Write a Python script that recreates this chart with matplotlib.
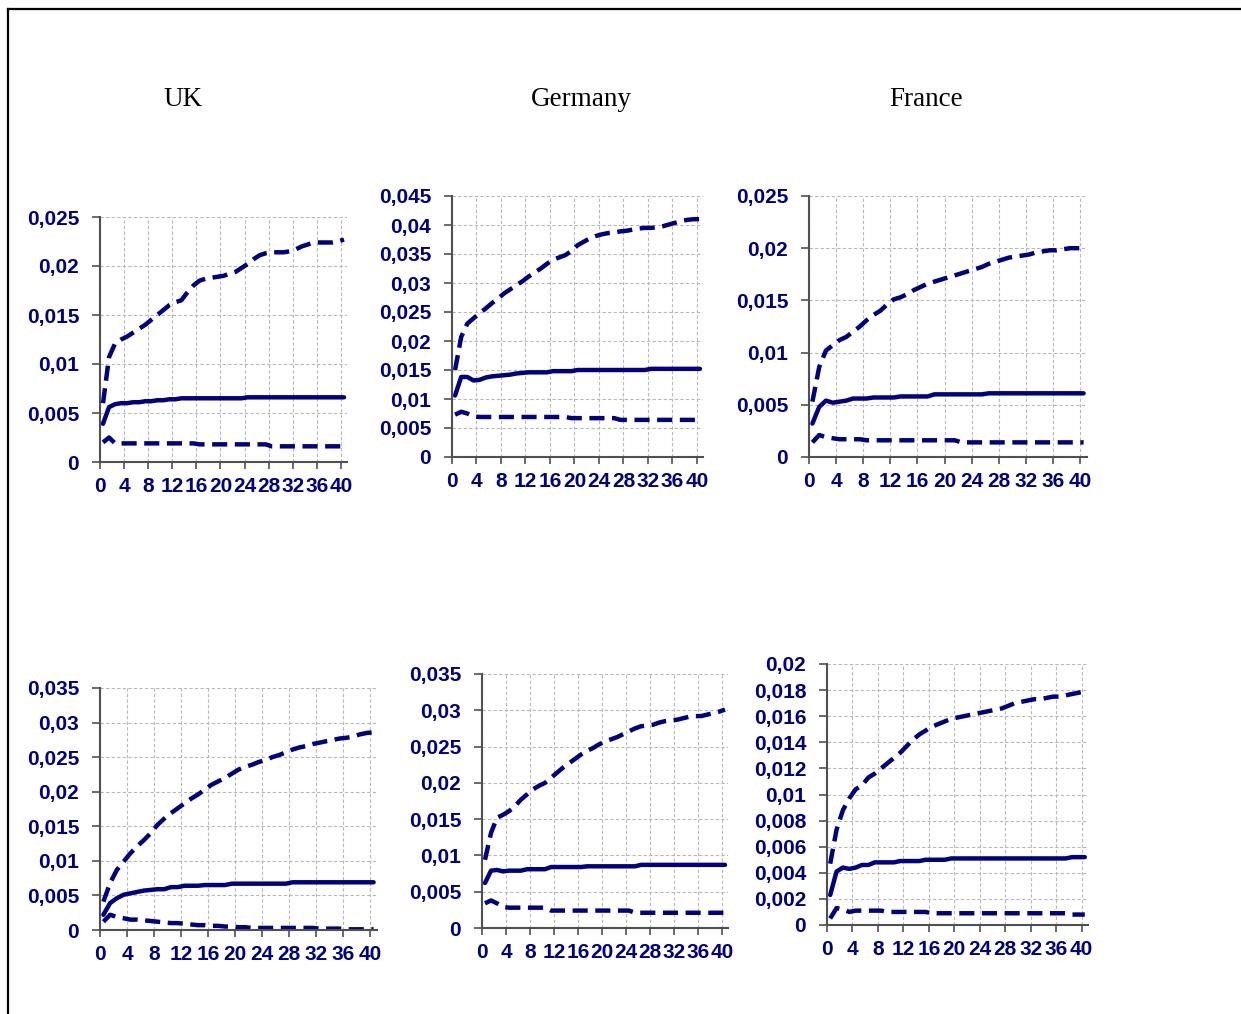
import numpy as np
import matplotlib
matplotlib.use("Agg")
import matplotlib.pyplot as plt
from matplotlib.lines import Line2D
from matplotlib.ticker import FuncFormatter

# horizons 0..40
horizon = np.arange(41)
countries = ["UK", "Germany", "France"]

# top row
uk_top_upper = [0.0060, 0.0107, 0.0121, 0.0125, 0.0128, 0.0132, 0.0136, 0.0140, 0.0145, 0.0150,
                0.0155, 0.0160, 0.0163, 0.0165, 0.0173, 0.0180, 0.0185, 0.0187, 0.0188, 0.0189,
                0.0190, 0.0192, 0.0194, 0.0198, 0.0202, 0.0207, 0.0211, 0.0213, 0.0214, 0.0214,
                0.0214, 0.0215, 0.0217, 0.0220, 0.0222, 0.0224, 0.0224, 0.0224, 0.0224, 0.0225,
                0.0227]
uk_top_mid = [0.0039, 0.0056, 0.0059, 0.0060, 0.0060, 0.0061, 0.0061, 0.0062, 0.0062, 0.0063,
              0.0063, 0.0064, 0.0064, 0.0065, 0.0065, 0.0065, 0.0065, 0.0065, 0.0065, 0.0065,
              0.0065, 0.0065, 0.0065, 0.0065, 0.0066, 0.0066, 0.0066, 0.0066, 0.0066, 0.0066,
              0.0066, 0.0066, 0.0066, 0.0066, 0.0066, 0.0066, 0.0066, 0.0066, 0.0066, 0.0066,
              0.0066]
uk_top_lower = [0.0020, 0.0025, 0.0019, 0.0019, 0.0019, 0.0019, 0.0019, 0.0019, 0.0019, 0.0019,
                0.0019, 0.0019, 0.0019, 0.0019, 0.0019, 0.0019, 0.0018, 0.0018, 0.0018, 0.0018,
                0.0018, 0.0018, 0.0018, 0.0018, 0.0018, 0.0018, 0.0018, 0.0018, 0.0016, 0.0016,
                0.0016, 0.0016, 0.0016, 0.0016, 0.0016, 0.0016, 0.0016, 0.0016, 0.0016, 0.0016,
                0.0016]

de_top_upper = [0.0150, 0.0207, 0.0230, 0.0239, 0.0248, 0.0256, 0.0265, 0.0273, 0.0282, 0.0289,
                0.0296, 0.0303, 0.0311, 0.0318, 0.0325, 0.0333, 0.0340, 0.0344, 0.0348, 0.0355,
                0.0365, 0.0371, 0.0377, 0.0381, 0.0384, 0.0386, 0.0387, 0.0389, 0.0390, 0.0392,
                0.0394, 0.0395, 0.0395, 0.0396, 0.0398, 0.0401, 0.0404, 0.0407, 0.0409, 0.0410,
                0.0410]
de_top_mid = [0.0106, 0.0138, 0.0138, 0.0132, 0.0133, 0.0137, 0.0139, 0.0140, 0.0141, 0.0142,
              0.0144, 0.0145, 0.0146, 0.0146, 0.0146, 0.0146, 0.0148, 0.0148, 0.0148, 0.0148,
              0.0150, 0.0150, 0.0150, 0.0150, 0.0150, 0.0150, 0.0150, 0.0150, 0.0150, 0.0150,
              0.0150, 0.0150, 0.0152, 0.0152, 0.0152, 0.0152, 0.0152, 0.0152, 0.0152, 0.0152,
              0.0152]
de_top_lower = [0.0073, 0.0078, 0.0075, 0.0070, 0.0069, 0.0069, 0.0069, 0.0069, 0.0069, 0.0069,
                0.0069, 0.0069, 0.0069, 0.0069, 0.0069, 0.0069, 0.0069, 0.0069, 0.0069, 0.0067,
                0.0067, 0.0067, 0.0067, 0.0067, 0.0067, 0.0067, 0.0067, 0.0064, 0.0064, 0.0064,
                0.0064, 0.0064, 0.0064, 0.0064, 0.0064, 0.0064, 0.0064, 0.0064, 0.0064, 0.0064,
                0.0064]

fr_top_upper = [0.0053, 0.0086, 0.0102, 0.0107, 0.0112, 0.0115, 0.0120, 0.0125, 0.0131, 0.0136,
                0.0140, 0.0146, 0.0151, 0.0153, 0.0156, 0.0160, 0.0163, 0.0166, 0.0168, 0.0170,
                0.0172, 0.0174, 0.0176, 0.0178, 0.0180, 0.0182, 0.0185, 0.0187, 0.0189, 0.0191,
                0.0192, 0.0193, 0.0194, 0.0196, 0.0197, 0.0198, 0.0198, 0.0199, 0.0200, 0.0200,
                0.0200]
fr_top_mid = [0.0032, 0.0048, 0.0054, 0.0052, 0.0053, 0.0054, 0.0056, 0.0056, 0.0056, 0.0057,
              0.0057, 0.0057, 0.0057, 0.0058, 0.0058, 0.0058, 0.0058, 0.0058, 0.0060, 0.0060,
              0.0060, 0.0060, 0.0060, 0.0060, 0.0060, 0.0060, 0.0061, 0.0061, 0.0061, 0.0061,
              0.0061, 0.0061, 0.0061, 0.0061, 0.0061, 0.0061, 0.0061, 0.0061, 0.0061, 0.0061,
              0.0061]
fr_top_lower = [0.0014, 0.0021, 0.0019, 0.0018, 0.0017, 0.0017, 0.0017, 0.0017, 0.0016, 0.0016,
                0.0016, 0.0016, 0.0016, 0.0016, 0.0016, 0.0016, 0.0016, 0.0016, 0.0016, 0.0016,
                0.0016, 0.0016, 0.0014, 0.0014, 0.0014, 0.0014, 0.0014, 0.0014, 0.0014, 0.0014,
                0.0014, 0.0014, 0.0014, 0.0014, 0.0014, 0.0014, 0.0014, 0.0014, 0.0014, 0.0014,
                0.0014]

# bottom row
uk_bot_upper = [0.0041, 0.0068, 0.0087, 0.0099, 0.0111, 0.0121, 0.0130, 0.0140, 0.0152, 0.0161,
                0.0169, 0.0176, 0.0183, 0.0190, 0.0196, 0.0203, 0.0210, 0.0215, 0.0220, 0.0226,
                0.0232, 0.0236, 0.0239, 0.0243, 0.0246, 0.0250, 0.0253, 0.0257, 0.0261, 0.0264,
                0.0266, 0.0269, 0.0271, 0.0273, 0.0275, 0.0277, 0.0278, 0.0280, 0.0283, 0.0285,
                0.0286]
uk_bot_mid = [0.0022, 0.0039, 0.0046, 0.0051, 0.0053, 0.0055, 0.0057, 0.0058, 0.0059, 0.0059,
              0.0062, 0.0062, 0.0064, 0.0064, 0.0064, 0.0065, 0.0065, 0.0065, 0.0065, 0.0067,
              0.0067, 0.0067, 0.0067, 0.0067, 0.0067, 0.0067, 0.0067, 0.0067, 0.0069, 0.0069,
              0.0069, 0.0069, 0.0069, 0.0069, 0.0069, 0.0069, 0.0069, 0.0069, 0.0069, 0.0069,
              0.0069]
uk_bot_lower = [0.0012, 0.0022, 0.0019, 0.0017, 0.0015, 0.0015, 0.0014, 0.0013, 0.0012, 0.0011,
                0.0010, 0.0010, 0.0009, 0.0008, 0.0007, 0.0007, 0.0006, 0.0006, 0.0005, 0.0005,
                0.0004, 0.0004, 0.0003, 0.0003, 0.0003, 0.0003, 0.0003, 0.0003, 0.0003, 0.0003,
                0.0003, 0.0003, 0.0002, 0.0002, 0.0002, 0.0002, 0.0001, 0.0001, 0.0001, 0.0001,
                0.0001]

de_bot_upper = [0.0094, 0.0131, 0.0152, 0.0156, 0.0161, 0.0168, 0.0177, 0.0184, 0.0191, 0.0196,
                0.0200, 0.0207, 0.0214, 0.0221, 0.0227, 0.0233, 0.0239, 0.0244, 0.0248, 0.0253,
                0.0257, 0.0260, 0.0263, 0.0267, 0.0271, 0.0275, 0.0278, 0.0279, 0.0280, 0.0283,
                0.0285, 0.0286, 0.0287, 0.0289, 0.0291, 0.0292, 0.0292, 0.0294, 0.0296, 0.0298,
                0.0301]
de_bot_mid = [0.0062, 0.0079, 0.0080, 0.0078, 0.0079, 0.0079, 0.0079, 0.0081, 0.0081, 0.0081,
              0.0081, 0.0084, 0.0084, 0.0084, 0.0084, 0.0084, 0.0084, 0.0085, 0.0085, 0.0085,
              0.0085, 0.0085, 0.0085, 0.0085, 0.0085, 0.0085, 0.0087, 0.0087, 0.0087, 0.0087,
              0.0087, 0.0087, 0.0087, 0.0087, 0.0087, 0.0087, 0.0087, 0.0087, 0.0087, 0.0087,
              0.0087]
de_bot_lower = [0.0034, 0.0038, 0.0034, 0.0029, 0.0028, 0.0028, 0.0028, 0.0028, 0.0028, 0.0028,
                0.0028, 0.0024, 0.0024, 0.0024, 0.0024, 0.0024, 0.0024, 0.0024, 0.0024, 0.0024,
                0.0024, 0.0024, 0.0024, 0.0024, 0.0024, 0.0021, 0.0021, 0.0021, 0.0021, 0.0021,
                0.0021, 0.0021, 0.0021, 0.0021, 0.0021, 0.0021, 0.0021, 0.0021, 0.0021, 0.0021,
                0.0021]

fr_bot_upper = [0.0047, 0.0073, 0.0088, 0.0097, 0.0104, 0.0107, 0.0113, 0.0116, 0.0120, 0.0124,
                0.0128, 0.0132, 0.0137, 0.0142, 0.0146, 0.0149, 0.0152, 0.0154, 0.0156, 0.0158,
                0.0159, 0.0160, 0.0161, 0.0162, 0.0163, 0.0164, 0.0165, 0.0166, 0.0168, 0.0170,
                0.0171, 0.0172, 0.0173, 0.0173, 0.0174, 0.0175, 0.0175, 0.0176, 0.0177, 0.0178,
                0.0179]
fr_bot_mid = [0.0023, 0.0041, 0.0044, 0.0043, 0.0044, 0.0046, 0.0046, 0.0048, 0.0048, 0.0048,
              0.0048, 0.0049, 0.0049, 0.0049, 0.0049, 0.0050, 0.0050, 0.0050, 0.0050, 0.0051,
              0.0051, 0.0051, 0.0051, 0.0051, 0.0051, 0.0051, 0.0051, 0.0051, 0.0051, 0.0051,
              0.0051, 0.0051, 0.0051, 0.0051, 0.0051, 0.0051, 0.0051, 0.0051, 0.0052, 0.0052,
              0.0052]
fr_bot_lower = [0.0005, 0.0013, 0.0012, 0.0010, 0.0011, 0.0011, 0.0011, 0.0011, 0.0011, 0.0010,
                0.0010, 0.0010, 0.0010, 0.0010, 0.0010, 0.0010, 0.0009, 0.0009, 0.0009, 0.0009,
                0.0009, 0.0009, 0.0009, 0.0009, 0.0009, 0.0009, 0.0009, 0.0009, 0.0009, 0.0009,
                0.0009, 0.0009, 0.0009, 0.0009, 0.0009, 0.0009, 0.0009, 0.0009, 0.0008, 0.0008,
                0.0008]

# y axis max and tick step per panel
y_max = [0.025, 0.045, 0.025, 0.035, 0.035, 0.02]
y_step = [0.005, 0.005, 0.005, 0.005, 0.005, 0.002]

series = [
    (uk_top_upper, uk_top_mid, uk_top_lower),
    (de_top_upper, de_top_mid, de_top_lower),
    (fr_top_upper, fr_top_mid, fr_top_lower),
    (uk_bot_upper, uk_bot_mid, uk_bot_lower),
    (de_bot_upper, de_bot_mid, de_bot_lower),
    (fr_bot_upper, fr_bot_mid, fr_bot_lower),
]

W, H = 1241, 1014
# axes boxes in pixels: left, right, top, bottom
boxes = [(100, 347, 217, 462), (452, 703, 196, 457), (809, 1087, 196, 457),
         (100, 377, 688, 930), (482, 728, 674, 928), (827, 1088, 664, 925)]

navy = "#000080"
tick_font = dict(family="Liberation Sans", weight="bold", size=15)


def comma_fmt(v, pos):
    s = f"{v:.3f}".rstrip("0").rstrip(".")
    return s.replace(".", ",")


fig = plt.figure(figsize=(W / 100, H / 100), dpi=100)

for i, (box, (up, mid, lo)) in enumerate(zip(boxes, series)):
    l, r, t, b = box
    ax = fig.add_axes([l / W, 1 - b / H, (r - l) / W, (b - t) / H])
    x = horizon + 0.5
    ax.plot(x, up, color=navy, lw=3.2, linestyle=(0, (3.4, 1.7)))
    ax.plot(x, mid, color=navy, lw=3.2, solid_capstyle="round")
    ax.plot(x, lo, color=navy, lw=3.2, linestyle=(0, (3.4, 1.7)))

    ax.set_xlim(0, 41)
    ax.set_ylim(0, y_max[i])
    ax.set_xticks(np.arange(0, 41, 4))
    ax.set_yticks(np.arange(0, y_max[i] + y_step[i] / 2, y_step[i]))
    ax.yaxis.set_major_formatter(FuncFormatter(comma_fmt))

    for s in ["top", "right"]:
        ax.spines[s].set_visible(False)
    for s in ["left", "bottom"]:
        ax.spines[s].set_color("#505050")
        ax.spines[s].set_linewidth(1.5)
    ax.tick_params(axis="y", length=6, width=1.2, color="#505050", pad=9)
    ax.tick_params(axis="x", length=5, width=1.2, color="#505050", pad=6)
    for lab in ax.get_xticklabels() + ax.get_yticklabels():
        lab.set_fontproperties(tick_font)
        lab.set_color(navy)
    ax.grid(True, color="#b8b8b8", linestyle=(0, (3, 2)), linewidth=0.8)
    ax.set_axisbelow(True)

# column titles
for name, cx in zip(countries, [183, 581, 926]):
    fig.text(cx / W, 1 - 106 / H, name, ha="center", va="baseline",
             family="Liberation Serif", size=19.5)

# frame round the figure (only left and top show)
fig.add_artist(Line2D([8 / W, 1], [1 - 9 / H, 1 - 9 / H], color="black", lw=1.6))
fig.add_artist(Line2D([8 / W, 8 / W], [0, 1 - 9 / H], color="black", lw=1.6))

fig.savefig("out.png", dpi=100)
